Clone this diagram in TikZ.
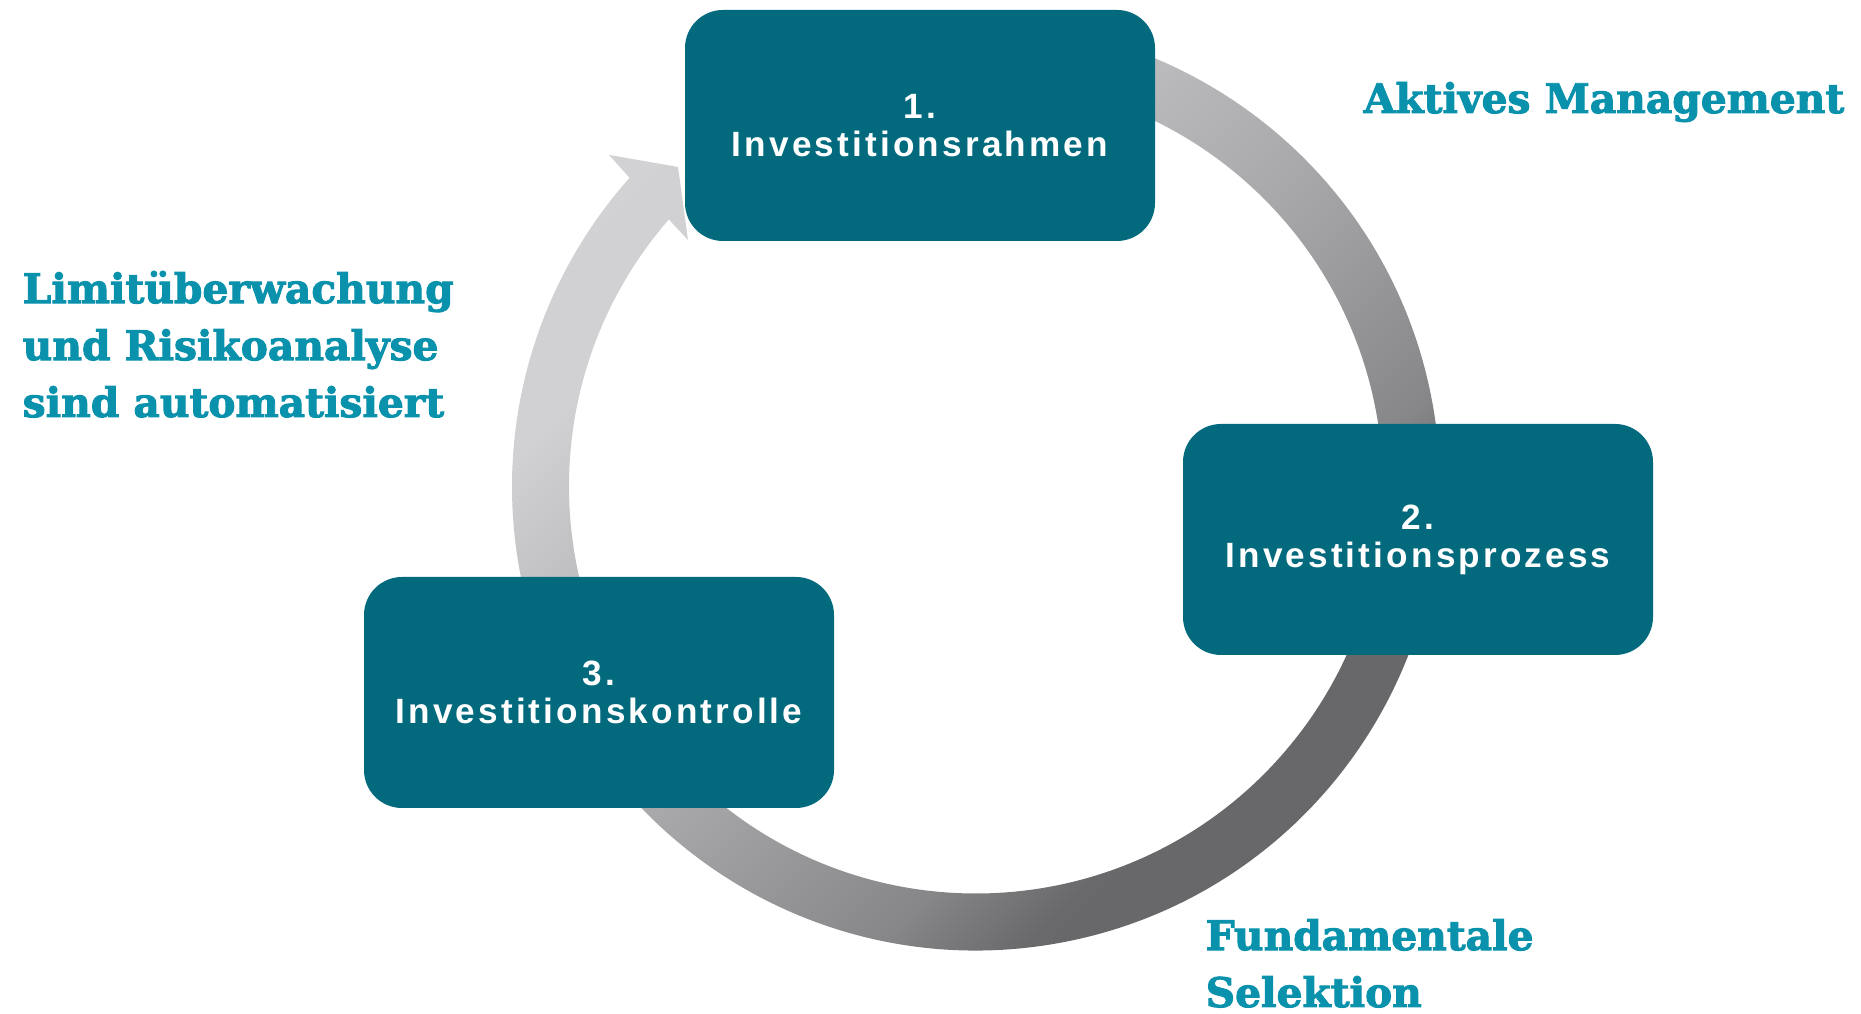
\documentclass[tikz,border=0pt]{standalone}
\usepackage{fontspec}
\setmainfont{Liberation Sans}
\newfontfamily\slabfont{DejaVu Serif}[BoldFeatures={FakeBold=2.4}]
\newfontfamily\boxfont{Liberation Sans}[LetterSpace=9]
\usetikzlibrary{calc}
\definecolor{boxteal}{HTML}{036A7D}
\definecolor{labteal}{HTML}{0A92AC}
\pgfdeclareverticalshading{ringshade}{100bp}{rgb(0bp)=(0.40,0.40,0.41); rgb(32bp)=(0.41,0.41,0.42); rgb(37.5bp)=(0.53,0.53,0.54); rgb(50bp)=(0.66,0.66,0.67); rgb(62.5bp)=(0.76,0.76,0.77); rgb(68bp)=(0.82,0.82,0.83); rgb(100bp)=(0.83,0.83,0.84)}
\begin{document}
\begin{tikzpicture}[x=1cm,y=1cm,
  stepbox/.style={rectangle, rounded corners=0.38cm, fill=boxteal, text=white,
    minimum width=4.70cm, minimum height=2.31cm, inner sep=0pt, align=center,
    font=\boxfont\bfseries\fontsize{10pt}{10.8pt}\selectfont},
  biglabel/.style={text=labteal, inner sep=0pt, align=left, anchor=base west,
    font=\slabfont\bfseries\fontsize{11.6pt}{16.2pt}\selectfont}]
\useasboundingbox (0,0) rectangle (18.61,10.14);
\coordinate (C) at (9.76,5.275);
\shade[shading=ringshade, shading angle=45]
  ($(C)+(100:4.64)$) arc[start angle=100, end angle=-221.7, radius=4.64]
  -- ($(C)+(137.9:4.946)$) -- ($(C)+(133:4.369)$) -- ($(C)+(139.44:3.791)$)
  -- ($(C)+(139.0:4.07)$) arc[start angle=-221.0, end angle=100, radius=4.07] -- cycle;
\node[stepbox] (s1) at (9.20,8.885) {1.\\Investitionsrahmen};
\node[stepbox] (s2) at (14.18,4.745) {2.\\Investitionsprozess};
\node[stepbox] (s3) at (5.99,3.215) {3.\\Investitionskontrolle};
\node[biglabel] (l1) at (13.63,9.01) {Aktives Management};
\node[biglabel] (l2) at (0.22,5.97) {Limitüberwachung\\und Risikoanalyse\\sind automatisiert};
\node[biglabel] (l3) at (12.05,0.07) {Fundamentale\\Selektion};
\end{tikzpicture}
\end{document}
